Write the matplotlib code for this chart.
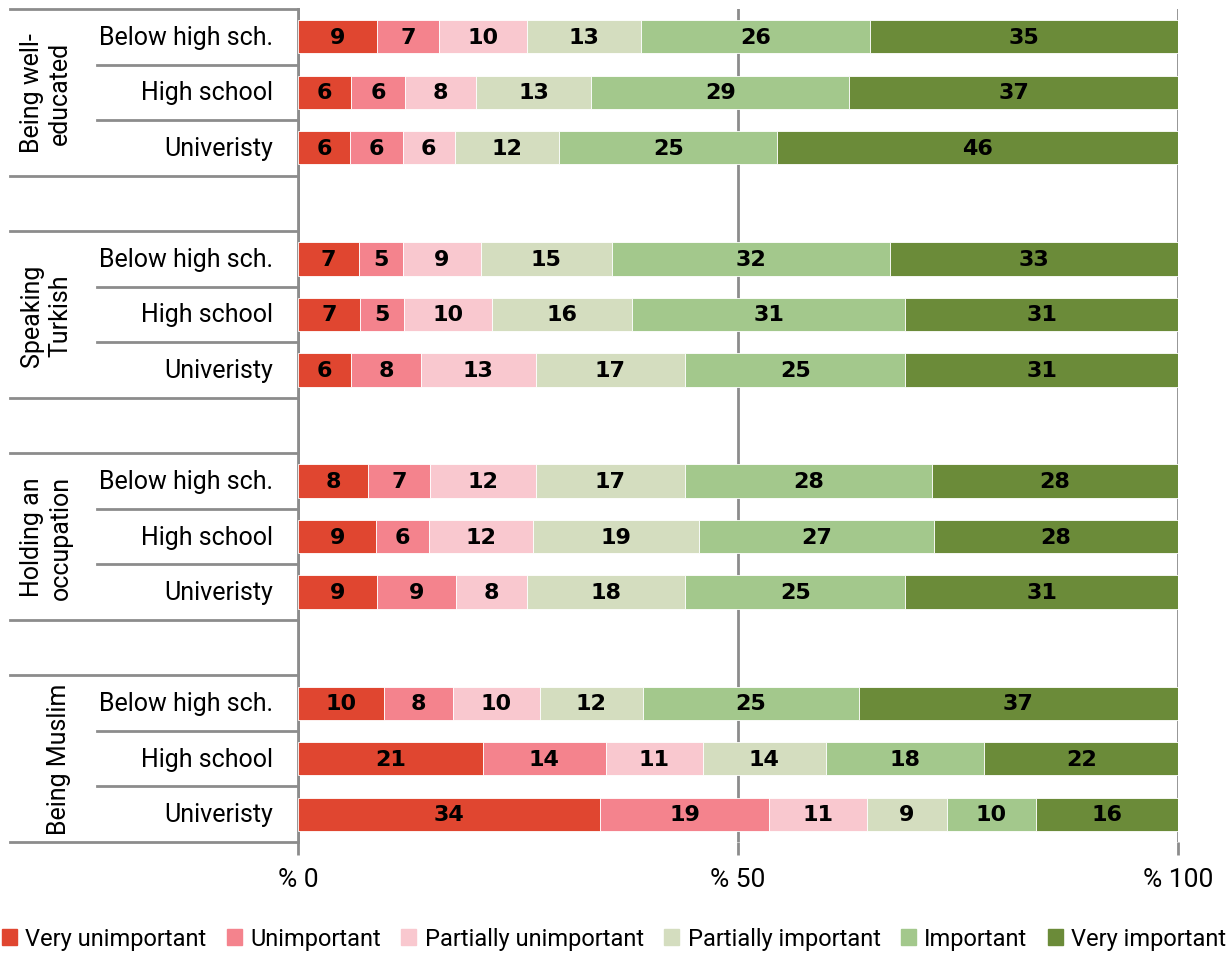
import numpy as np
import matplotlib
matplotlib.use('Agg')
import matplotlib.pyplot as plt
from matplotlib.patches import Patch

plt.rcParams['font.family'] = ['Roboto', 'DejaVu Sans']

groups = ['Being well-\neducated', 'Speaking\nTurkish', 'Holding an\noccupation', 'Being Muslim']
levels = ['Below high sch.', 'High school', 'Univeristy']
answers = ['Very unimportant', 'Unimportant', 'Partially unimportant',
           'Partially important', 'Important', 'Very important']
colors = ['#e04630', '#f4838d', '#f9c8cf', '#d4ddbf', '#a3c88c', '#6b8b39']

# rows in order: group by group, education level within group
very_unimportant = [9, 6, 6, 7, 7, 6, 8, 9, 9, 10, 21, 34]
unimportant = [7, 6, 6, 5, 5, 8, 7, 6, 9, 8, 14, 19]
partially_unimportant = [10, 8, 6, 9, 10, 13, 12, 12, 8, 10, 11, 11]
partially_important = [13, 13, 12, 15, 16, 17, 17, 19, 18, 12, 14, 9]
important = [26, 29, 25, 32, 31, 25, 28, 27, 25, 25, 18, 10]
very_important = [35, 37, 46, 33, 31, 31, 28, 28, 31, 37, 22, 16]

series = np.array([very_unimportant, unimportant, partially_unimportant,
                   partially_important, important, very_important], dtype=float)
shares = series / series.sum(axis=0) * 100

# 15 slots top to bottom: 3 rows per group plus an empty slot between groups
slots = []
for g in range(len(groups)):
    for k in range(len(levels)):
        slots.append(g * 4 + k)
slots = np.array(slots)
n_slots = 15

fig = plt.figure(figsize=(12.3, 9.54), dpi=100)
ax = fig.add_axes([298 / 1230, 1 - 843 / 954, 880 / 1230, 833 / 954])

left = np.zeros(len(slots))
for i in range(len(answers)):
    ax.barh(slots + 0.5, shares[i], left=left, height=0.6, color=colors[i],
            edgecolor='white', linewidth=0.6, label=answers[i], zorder=3)
    for y, l, w, v in zip(slots, left, shares[i], series[i]):
        ax.text(l + w / 2, y + 0.5, '%d' % v, ha='center', va='center',
                fontsize=16, fontweight='heavy', family='DejaVu Sans',
                color='black', zorder=4)
    left += shares[i]

ax.set_xlim(0, 100)
ax.set_ylim(n_slots, 0)
ax.set_xticks([0, 50, 100])
ax.set_xticklabels(['% 0', '% 50', '% 100'], fontsize=19)
ax.set_yticks([])
ax.tick_params(axis='x', length=9, width=2, color='#8c8c8c', pad=9)
for s in ['top', 'right', 'bottom']:
    ax.spines[s].set_visible(False)
ax.spines['left'].set_color('#8c8c8c')
ax.spines['left'].set_linewidth(2)
ax.spines['left'].set_bounds(n_slots, 0)
ax.grid(axis='x', color='#8c8c8c', linewidth=2, zorder=0)

# category axis: separator lines and labels to the left of the plot
trans = ax.get_yaxis_transform()
long_x = (10 - 298) / 880
short_x = (97 - 298) / 880
for g in range(len(groups)):
    top = g * 4
    ax.plot([long_x, 0], [top, top], color='#8c8c8c', lw=2, transform=trans, clip_on=False)
    ax.plot([long_x, 0], [top + 3, top + 3], color='#8c8c8c', lw=2, transform=trans, clip_on=False)
    for k in (1, 2):
        ax.plot([short_x, 0], [top + k, top + k], color='#8c8c8c', lw=2,
                transform=trans, clip_on=False)
    for k, lev in enumerate(levels):
        ax.text(-25 / 880, top + k + 0.5, lev, ha='right', va='center', fontsize=18,
                transform=trans)
    gx = (59 - 298) / 880 if '\n' not in groups[g] else (46 - 298) / 880
    ax.text(gx, top + 1.5, groups[g], ha='center', va='center', rotation=90,
            fontsize=18, multialignment='center', linespacing=1.25, transform=trans)

handles = [Patch(color=c, label=a) for c, a in zip(colors, answers)]
fig.legend(handles=handles, loc='center', bbox_to_anchor=(614 / 1230, 1 - 940 / 954),
           ncol=6, frameon=False, fontsize=17, handlelength=0.65, handleheight=0.65,
           handletextpad=0.35, columnspacing=0.85)

fig.savefig('out.png', dpi=100)
